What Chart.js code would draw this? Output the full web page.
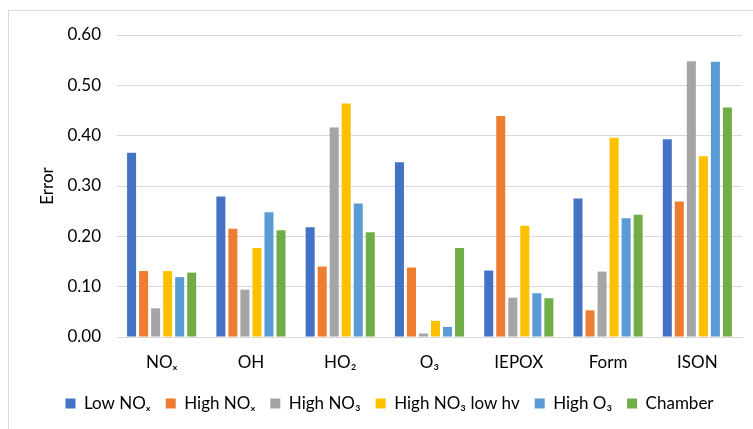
<!DOCTYPE html>
<html>
<head>
<meta charset="utf-8">
<script src="https://cdn.jsdelivr.net/npm/chart.js@4"></script>
<style>
  html, body { margin: 0; padding: 0; background: #fff; }
  body { width: 753px; height: 429px; overflow: hidden; position: relative; }
  #frame { position: absolute; left: 8px; top: 10px; width: 800px; height: 500px; border: 1px solid #d9d9d9; }
  #chart { position: absolute; left: 0; top: 0; }
</style>
</head>
<body>
<div id="frame"></div>
<canvas id="chart" width="753" height="429"></canvas>
<script>
const categories = ['NOₓ', 'OH', 'HO₂', 'O₃', 'IEPOX', 'Form', 'ISON'];
const seriesNames = ['Low NOₓ', 'High NOₓ', 'High NO₃', 'High NO₃ low hv', 'High O₃', 'Chamber'];
const lowNOx      = [0.366, 0.279, 0.218, 0.347, 0.132, 0.275, 0.393];
const highNOx     = [0.131, 0.215, 0.140, 0.138, 0.439, 0.053, 0.269];
const highNO3     = [0.057, 0.094, 0.416, 0.007, 0.078, 0.130, 0.548];
const highNO3lowhv = [0.131, 0.177, 0.464, 0.032, 0.221, 0.396, 0.359];
const highO3      = [0.119, 0.248, 0.265, 0.020, 0.087, 0.236, 0.547];
const chamber     = [0.128, 0.212, 0.208, 0.177, 0.077, 0.243, 0.456];
const yTicks = [0, 0.1, 0.2, 0.3, 0.4, 0.5, 0.6];

const colors = ['#4472C4', '#ED7D31', '#A5A5A5', '#FFC000', '#5B9BD5', '#70AD47'];
const values = [lowNOx, highNOx, highNO3, highNO3lowhv, highO3, chamber];

Chart.defaults.font.family = 'Lato';
Chart.defaults.color = '#000';

new Chart(document.getElementById('chart'), {
  type: 'bar',
  data: {
    labels: categories,
    datasets: values.map((v, i) => ({
      label: seriesNames[i],
      data: v,
      backgroundColor: colors[i],
      categoryPercentage: 0.808,
      barPercentage: 0.75
    }))
  },
  options: {
    responsive: false,
    animation: false,
    devicePixelRatio: 1,
    layout: { padding: { left: 37, right: 11, top: 35, bottom: 7 } },
    plugins: {
      tooltip: { enabled: false },
      legend: {
        position: 'bottom',
        labels: {
          boxWidth: 10,
          boxHeight: 10,
          padding: 15,
          font: { size: 17 },
          color: '#000'
        }
      }
    },
    scales: {
      x: {
        // keep the label strip tight so the legend sits close under it
        afterFit: s => { s.height = 43; },
        grid: { display: false, drawTicks: false },
        border: { color: '#d9d9d9', width: 1 },
        ticks: { font: { size: 17 }, padding: 15, color: '#000', maxRotation: 0 }
      },
      y: {
        min: 0,
        max: 0.6,
        afterBuildTicks: s => { s.ticks = yTicks.map(v => ({ value: v })); },
        afterFit: s => { s.width = 80; },
        grid: { color: '#d9d9d9', drawTicks: false },
        border: { display: false },
        ticks: {
          font: { size: 17 },
          padding: 16,
          color: '#000',
          callback: v => v.toFixed(2)
        },
        title: {
          display: true,
          text: 'Error',
          font: { size: 17 },
          color: '#000',
          padding: { top: 0, bottom: 0 }
        }
      }
    }
  }
});
</script>
</body>
</html>
